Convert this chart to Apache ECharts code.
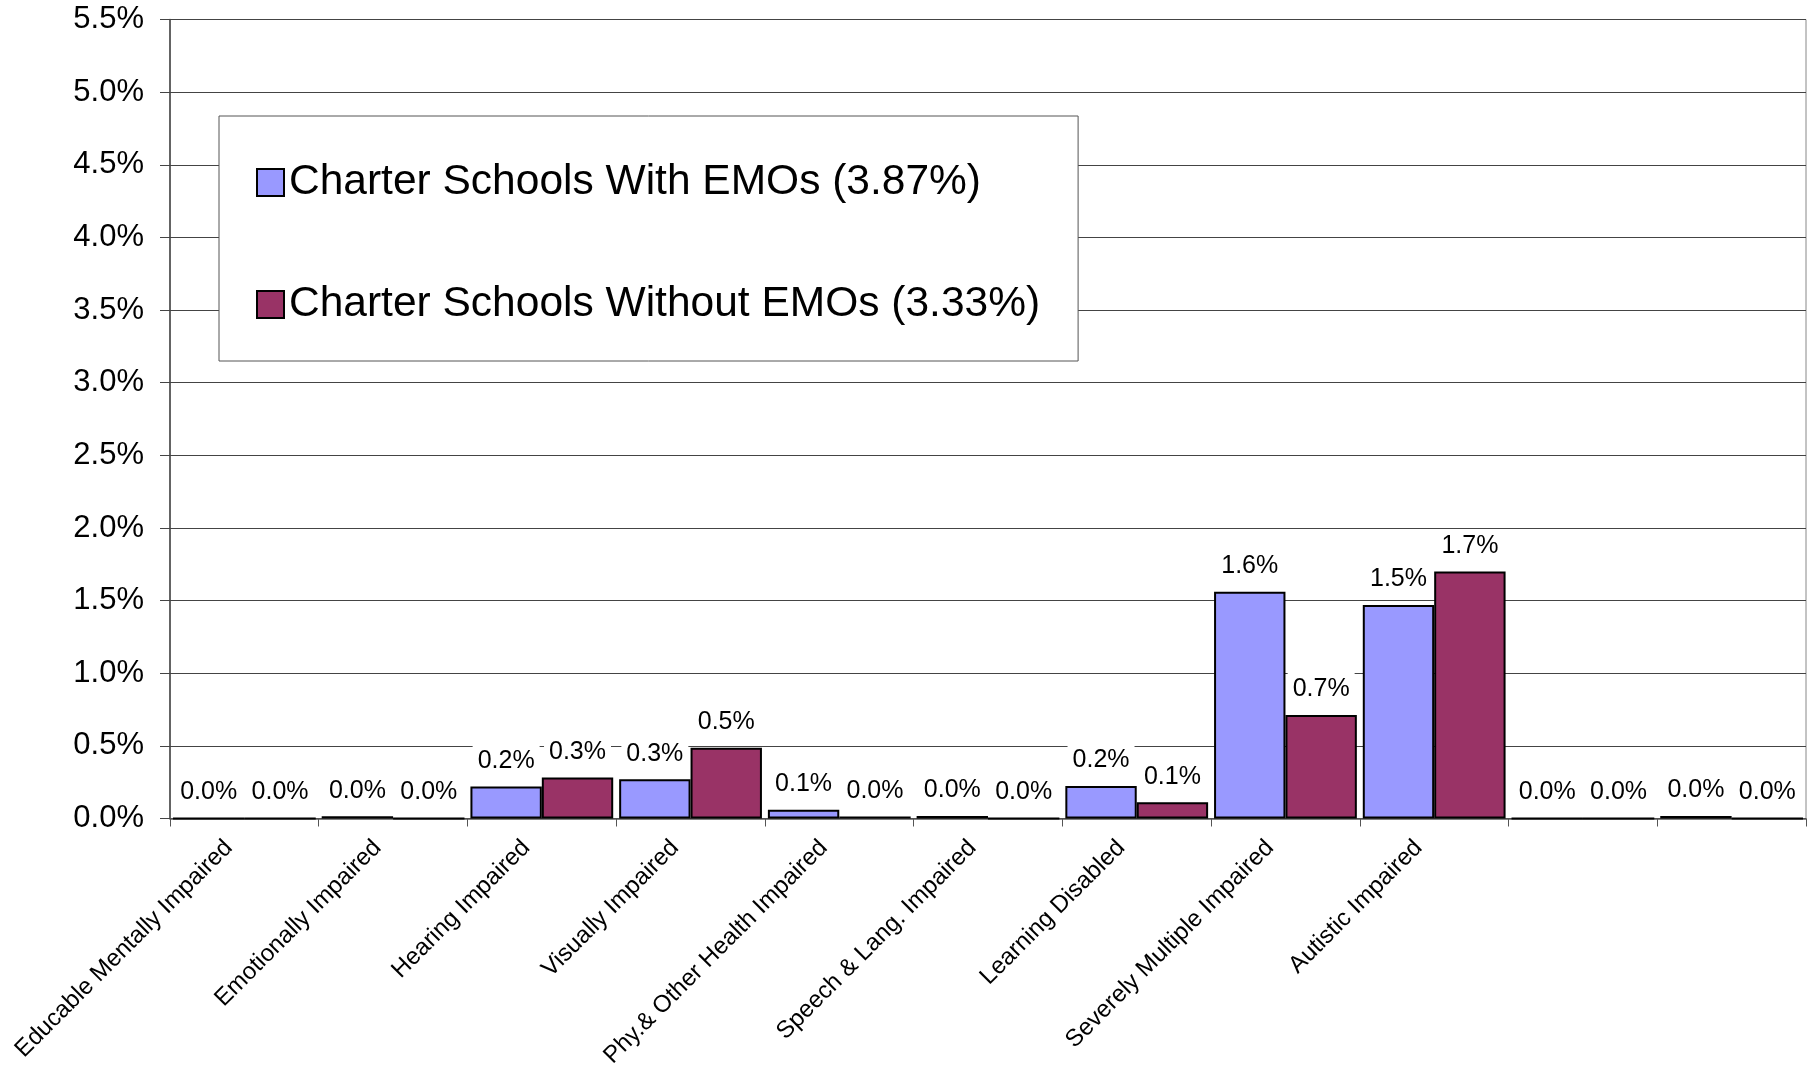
<!DOCTYPE html>
<html>
<head>
<meta charset="utf-8">
<script src="https://cdn.jsdelivr.net/npm/echarts@6/dist/echarts.min.js"></script>
<style>
html,body{margin:0;padding:0;background:#fff;}
#chart{width:1816px;height:1066px;}
</style>
</head>
<body>
<div id="chart"></div>
<script>
const categories = [
  'Educable Mentally Impaired',
  'Emotionally Impaired',
  'Hearing Impaired',
  'Visually Impaired',
  'Phy.& Other Health Impaired',
  'Speech & Lang. Impaired',
  'Learning Disabled',
  'Severely Multiple Impaired',
  'Autistic Impaired',
  '',
  ''
];
const seriesNames = ['Charter Schools With EMOs (3.87%)', 'Charter Schools Without EMOs (3.33%)'];
const withEMOs    = [0, 0.015, 0.22, 0.27, 0.06, 0.018, 0.223, 1.56, 1.47, 0, 0.018];
const withoutEMOs = [0, 0, 0.283, 0.487, 0.014, 0, 0.112, 0.712, 1.70, 0, 0];
const yTicks = { min: 0, max: 5.5, interval: 0.5 };

const FONT = '"Liberation Sans", Arial, sans-serif';
const chart = echarts.init(document.getElementById('chart'), null, {renderer: 'canvas'});

const labelCfg = {
  show: true,
  position: 'top',
  distance: 9,
  formatter: p => p.value.toFixed(1) + '%',
  fontFamily: FONT,
  fontSize: 25,
  color: '#000',
  backgroundColor: '#fff',
  padding: [4, 5]
};

chart.setOption({
  animation: false,
  backgroundColor: '#fff',
  grid: {
    left: 170, right: 10, top: 19.5, bottom: 247.5,
    containLabel: false, outerBoundsMode: 'none',
    show: true, borderColor: '#888', borderWidth: 1, backgroundColor: 'transparent'
  },
  legend: {
    orient: 'vertical',
    left: 219, top: 116,
    padding: [45, 38, 35, 37],
    itemGap: 79,
    itemWidth: 27, itemHeight: 27,
    icon: 'rect',
    borderColor: '#555', borderWidth: 1,
    backgroundColor: '#fff',
    textStyle: { fontFamily: FONT, fontSize: 42.5, color: '#000' },
    data: seriesNames
  },
  xAxis: {
    type: 'category',
    data: categories,
    axisLine: { show: true, lineStyle: { color: '#555', width: 1.5 } },
    axisTick: { show: true, length: 8, alignWithLabel: false, lineStyle: { color: '#555' } },
    axisLabel: { interval: 0, rotate: 45, fontFamily: FONT, fontSize: 24, color: '#000', margin: 10,
      padding: [0, 22, 12, 0] },
    splitLine: { show: false }
  },
  yAxis: {
    type: 'value',
    min: yTicks.min, max: yTicks.max, interval: yTicks.interval,
    axisLine: { show: true, lineStyle: { color: '#444', width: 1.5 } },
    axisTick: { show: true, length: 10, lineStyle: { color: '#444' } },
    axisLabel: { fontFamily: FONT, fontSize: 31, color: '#000', margin: 26,
      formatter: v => v.toFixed(1) + '%' },
    splitLine: { show: true, lineStyle: { color: '#444', width: 1 } }
  },
  series: [
    {
      name: seriesNames[0], type: 'bar', data: withEMOs,
      barGap: '0%', barCategoryGap: '4%',
      itemStyle: { color: '#9999FF', borderColor: '#000', borderWidth: 2 },
      label: labelCfg
    },
    {
      name: seriesNames[1], type: 'bar', data: withoutEMOs,
      barGap: '0%', barCategoryGap: '4%',
      itemStyle: { color: '#993366', borderColor: '#000', borderWidth: 2 },
      label: labelCfg
    }
  ]
});
</script>
</body>
</html>
